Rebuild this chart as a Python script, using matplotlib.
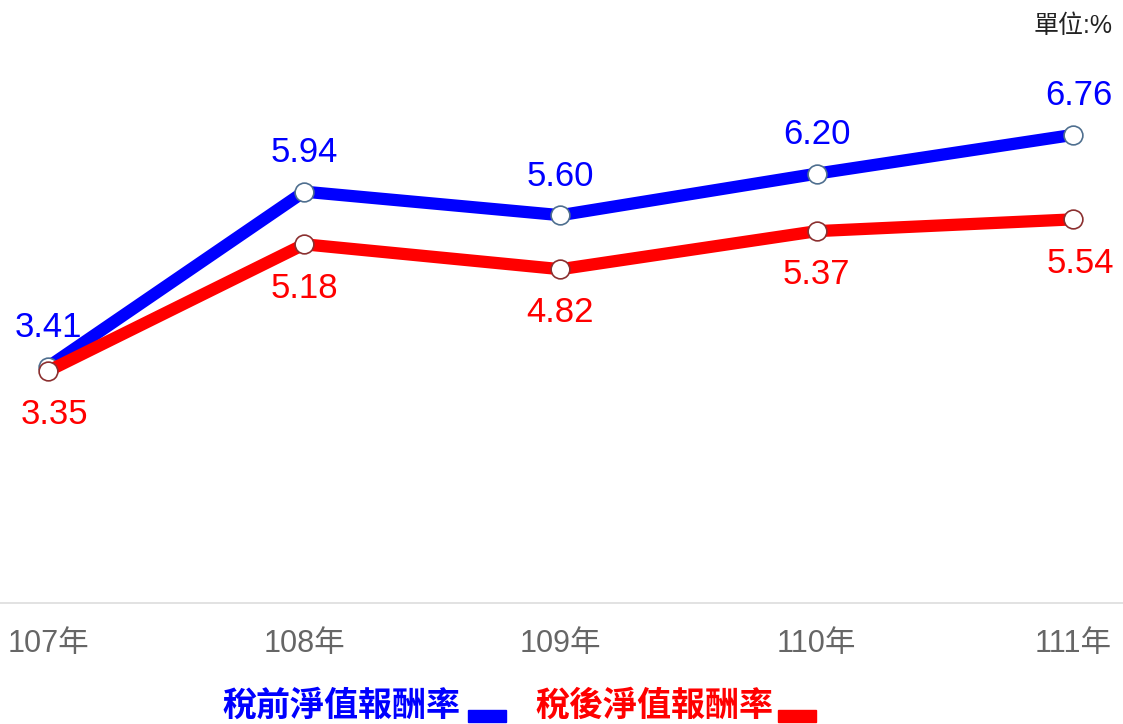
import matplotlib
matplotlib.use("Agg")
import matplotlib.pyplot as plt
from matplotlib.patches import Rectangle

years = ["107年", "108年", "109年", "110年", "111年"]
pre_tax = [3.41, 5.94, 5.60, 6.20, 6.76]
post_tax = [3.35, 5.18, 4.82, 5.37, 5.54]
legend_labels = ["稅前淨值報酬率", "稅後淨值報酬率"]
unit_text = "單位:%"

BLUE = "#0000ff"
RED = "#ff0000"
FONT = ["Liberation Sans", "Noto Sans CJK TC", "DejaVu Sans"]

W, H = 1123, 724
fig = plt.figure(figsize=(W / 100, H / 100), dpi=100)
ax = fig.add_axes([0, 1 - 603 / H, 1, (603 - 49) / H])
x = list(range(len(years)))

ax.plot(x, pre_tax, color=BLUE, lw=8.8, solid_capstyle="butt", zorder=3,
        marker="o", ms=13.5, mfc="white", mec="#4f6f8f", mew=1.2)
ax.plot(x, post_tax, color=RED, lw=8.8, solid_capstyle="butt", zorder=4,
        marker="o", ms=13.5, mfc="white", mec="#8b3030", mew=1.2)

ax.set_xlim(-48 / 256.25, 4 + 50 / 256.25)
ax.set_ylim(0, 8)

for i, v in enumerate(pre_tax):
    dx = 0 if i < 4 else 4
    ax.annotate(f"{v:.2f}", (i, v), xytext=(dx, 28), textcoords="offset points",
                ha="center", va="center", color=BLUE, fontsize=25, family=FONT)
for i, v in enumerate(post_tax):
    dx = 5 if i in (0, 4) else 0
    ax.annotate(f"{v:.2f}", (i, v), xytext=(dx, -31.5), textcoords="offset points",
                ha="center", va="center", color=RED, fontsize=25, family=FONT)

for s in ["top", "right", "left"]:
    ax.spines[s].set_visible(False)
ax.spines["bottom"].set_color("#dddddd")
ax.spines["bottom"].set_linewidth(1.2)
ax.set_yticks([])
ax.set_xticks(x)
ax.set_xticklabels(years, family=FONT, fontsize=22, color="#666666")
ax.tick_params(axis="x", length=0, pad=19)

fig.text(1113 / W, 1 - 26 / H, unit_text, ha="right", va="center", fontsize=18,
         color="#222222", family=FONT)

# legend
for lab, col, x0, rx in [(legend_labels[0], BLUE, 222, 468), (legend_labels[1], RED, 535, 778)]:
    fig.text(x0 / W, 1 - 705 / H, lab, ha="left", va="center", fontsize=24.5,
             color=col, family=["Noto Sans CJK TC"], weight="bold")
    fig.patches.append(Rectangle((rx / W, 1 - 722 / H), 38 / W, 12 / H,
                                 transform=fig.transFigure, color=col, figure=fig))

fig.savefig("out.png", dpi=100)
